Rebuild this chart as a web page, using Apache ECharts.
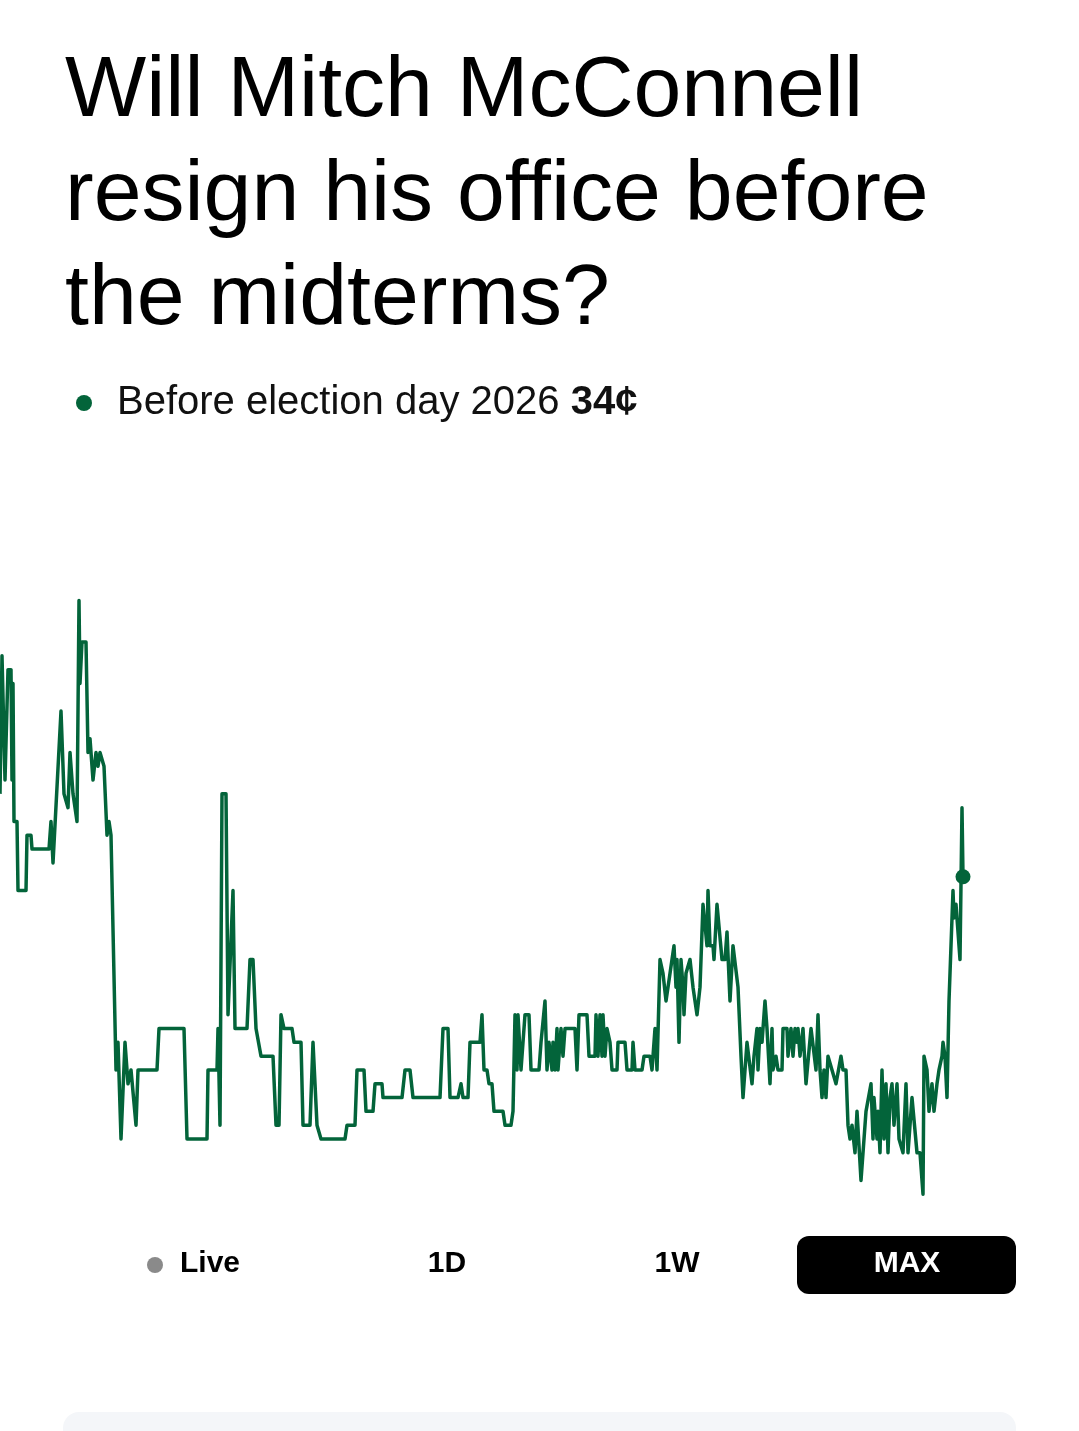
<!DOCTYPE html>
<html>
<head>
<meta charset="utf-8">
<script src="https://cdn.jsdelivr.net/npm/echarts@6/dist/echarts.min.js"></script>
<style>
html,body{margin:0;padding:0;background:#fff;}
#chart{width:1079px;height:1431px;}
</style>
</head>
<body>
<div id="chart"></div>
<script>
// Time (day index since market open) and price (cents)
const days = [
0,2,3,5,7,8,11,12,13,14,17,18,26,27,31,32,49,51,53,55,61,63,64,68,70,72,73,77,79,80,82,86,88,90,93,96,98,100,102,104,107,109,111,113,
116,118,121,125,128,131,133,136,138,157,159,184,187,207,208,217,218,220,222,226,228,230,233,235,247,
250,253,256,258,261,273,276,279,281,284,292,294,301,303,310,313,317,318,321,345,347,355,357,364,366,373,375,382,383,402,405,410,413,440,443,448,450,458,461,463,468,470,480,482,484,487,489,492,494,503,
505,511,513,515,517,518,521,523,525,529,531,539,541,543,545,547,549,552,553,555,557,558,561,563,565,575,577,579,587,589,595,596,598,600,602,603,605,607,610,612,617,618,625,627,632,633,635,642,644,650,652,655,657,660,663,666,668,672,674,676,677,679,681,683,684,686,687,690,693,695,697,700,703,705,707,708,710,713,714,717,719,722,725,727,730,733,735,738,741,
743,747,752,754,757,758,760,762,765,767,770,772,773,776,778,782,783,787,788,791,793,795,797,798,800,803,806,808,811,813,816,818,820,822,824,826,828,832,834,836,838,841,843,846,848,850,852,855,857,859,861,863,866,868,871,873,874,877,878,880,882,884,886,888,890,892,894,897,899,901,903,906,908,910,912,914,917,920,923,924,927,929,932,934,937,939,942,943,945,947,949,953,954,956,958,960,962,963
];
const cents = [
40,50,50,41,41,49,49,41,48,38,38,33,33,37,37,36,36,38,35,35,46,46,40,39,43,43,40,38,54,48,51,51,43,44,41,43,42,43,43,42,37,38,37,37,
20,22,15,22,19,20,20,16,20,20,23,23,15,15,20,20,23,16,40,40,24,24,33,23,23,
28,28,23,23,21,21,16,16,24,23,23,22,22,16,16,22,16,16,15,15,16,16,20,20,17,17,19,19,18,18,20,20,18,18,23,23,18,18,19,18,18,22,22,24,20,20,19,19,17,17,
16,16,17,24,20,24,20,20,24,24,20,20,22,22,25,20,22,20,22,20,23,20,23,21,23,23,20,24,24,21,21,24,21,24,21,24,21,23,22,20,20,22,22,20,20,22,20,20,21,21,20,23,20,28,27,25,26,28,29,26,28,22,28,26,24,27,27,28,26,26,24,26,32,32,29,33,29,29,28,32,32,28,28,30,25,29,29,26,21,
18,22,19,21,23,20,23,22,25,23,19,23,20,21,20,20,23,23,21,23,21,23,22,23,21,23,19,19,23,23,20,24,20,18,20,18,21,20,20,19,19,21,20,20,16,15,16,14,17,17,12,14,17,17,19,15,18,15,17,14,20,15,19,14,18,19,16,19,15,15,14,19,14,14,18,18,14,14,11,21,20,17,19,17,19,20,21,22,21,18,25,33,31,32,32,28,39,34
];
const seriesName = 'Before election day 2026';
const titleLines = ['Will Mitch McConnell', 'resign his office before', 'the midterms?'];
const rangeButtons = ['Live', '1D', '1W', 'MAX'];

const GREEN = '#03643a';
const FONT = '"Liberation Sans", Arial, sans-serif';
const lineData = days.map((d, i) => [d, cents[i]]);
const last = lineData[lineData.length - 1];

const chart = echarts.init(document.getElementById('chart'), null, {renderer: 'canvas'});
chart.setOption({
  animation: false,
  backgroundColor: '#ffffff',
  title: {
    text: titleLines.join('\n'),
    left: 60,
    top: 35,
    textStyle: {fontFamily: FONT, fontSize: 86, fontWeight: 'normal', color: '#000', lineHeight: 104}
  },
  legend: {
    data: [seriesName],
    left: 71,
    top: 378,
    icon: 'circle',
    itemWidth: 16,
    itemHeight: 16,
    selectedMode: false,
    formatter: function (name) { return name + ' {b|' + last[1] + '¢}'; },
    textStyle: {
      fontFamily: FONT, fontSize: 40, color: '#111', padding: [0, 0, 0, 20],
      rich: {b: {fontFamily: FONT, fontSize: 40, fontWeight: 'bold', color: '#111'}}
    }
  },
  grid: {left: 0, right: 115, top: 573, bottom: 223},
  xAxis: {type: 'value', min: 0, max: 964, show: false},
  yAxis: {type: 'value', min: 10, max: 56, show: false},
  series: [
    {
      name: seriesName,
      type: 'line',
      data: lineData,
      showSymbol: false,
      symbol: 'circle',
      color: GREEN,
      lineStyle: {color: GREEN, width: 3.5, join: 'round'},
      itemStyle: {color: GREEN},
      silent: true
    },
    {
      type: 'scatter',
      data: [last],
      symbolSize: 15,
      itemStyle: {color: GREEN, opacity: 1},
      silent: true,
      z: 5
    }
  ],
  graphic: [
    {type: 'circle', shape: {cx: 155, cy: 1265, r: 8}, style: {fill: '#8a8a8a'}},
    {type: 'text', x: 180, y: 1264, style: {text: rangeButtons[0], font: 'bold 30px ' + FONT, fill: '#000', verticalAlign: 'middle', align: 'left'}},
    {type: 'text', x: 447, y: 1264, style: {text: rangeButtons[1], font: 'bold 30px ' + FONT, fill: '#000', verticalAlign: 'middle', align: 'center'}},
    {type: 'text', x: 677, y: 1264, style: {text: rangeButtons[2], font: 'bold 30px ' + FONT, fill: '#000', verticalAlign: 'middle', align: 'center'}},
    {type: 'rect', shape: {x: 797, y: 1236, width: 219, height: 58, r: 12}, style: {fill: '#000'}},
    {type: 'text', x: 907, y: 1264, style: {text: rangeButtons[3], font: 'bold 30px ' + FONT, fill: '#fff', verticalAlign: 'middle', align: 'center'}},
    {type: 'rect', shape: {x: 63, y: 1412, width: 953, height: 60, r: 16}, style: {fill: '#f4f6f9'}}
  ]
});
</script>
</body>
</html>
